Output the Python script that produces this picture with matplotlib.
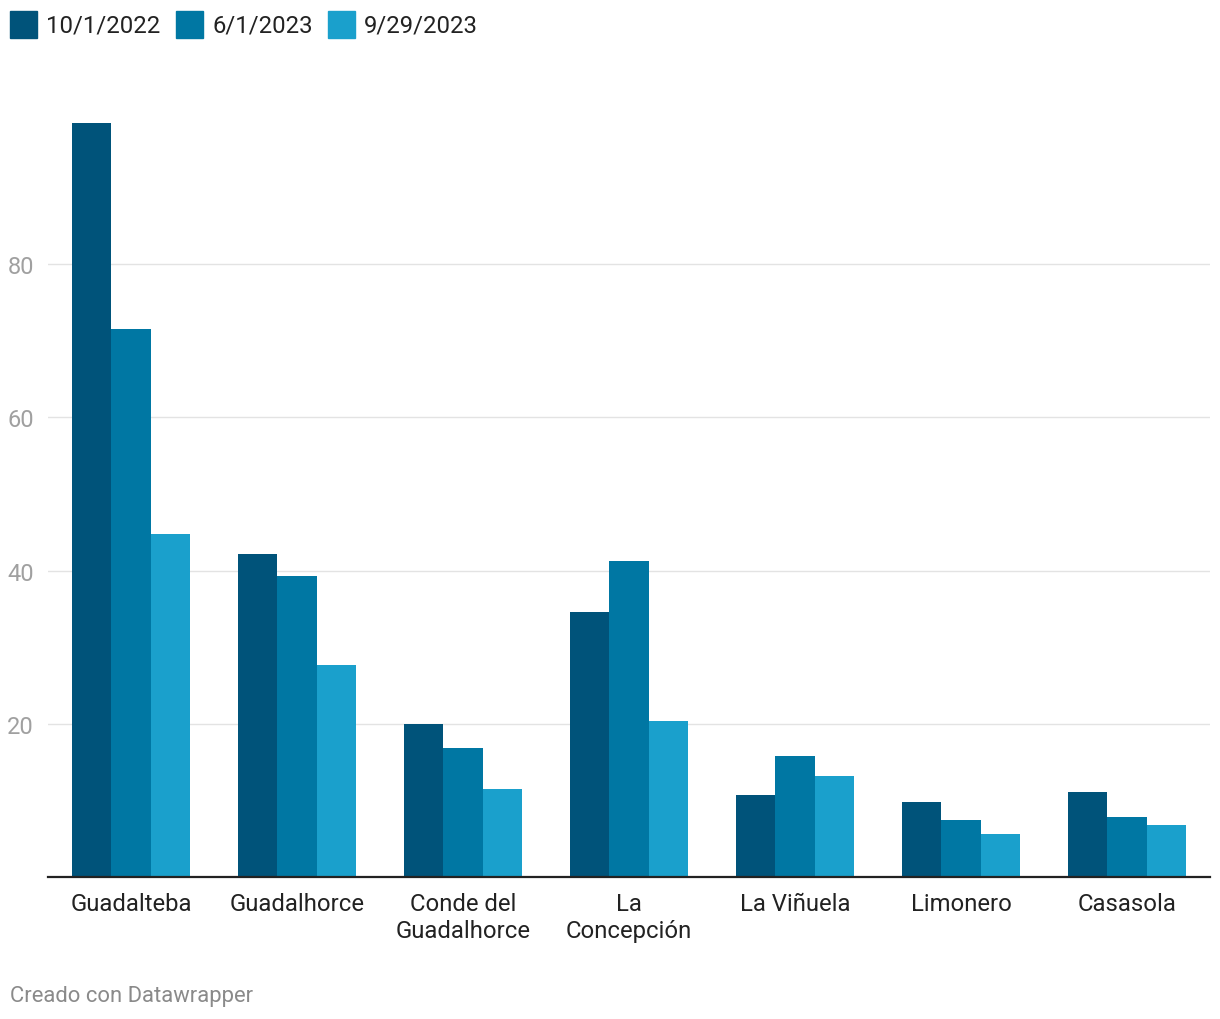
import matplotlib.pyplot as plt
from matplotlib.patches import Rectangle
import numpy as np

plt.rcParams['font.family'] = ['Roboto', 'DejaVu Sans']

# ---- Data ----------------------------------------------------------------
reservoirs = ["Guadalteba", "Guadalhorce", "Conde del\nGuadalhorce", "La\nConcepción",
              "La Viñuela", "Limonero", "Casasola"]
dates = ["10/1/2022", "6/1/2023", "9/29/2023"]
oct_2022 = [98.4, 42.2, 20.0, 34.6, 10.7, 9.8, 11.1]
jun_2023 = [71.5, 39.3, 16.8, 41.3, 15.8, 7.4, 7.8]
sep_2023 = [44.8, 27.7, 11.5, 20.4, 13.2, 5.6, 6.8]
series = [oct_2022, jun_2023, sep_2023]
colors = ["#00537a", "#0077a3", "#1aa0cc"]
yticks = [20, 40, 60, 80]

# ---- Figure --------------------------------------------------------------
W, H = 1220, 1020
fig = plt.figure(figsize=(W / 100, H / 100), dpi=100)
ax = fig.add_axes([48 / W, (H - 878) / H, (1210 - 48) / W, (878 - 112) / H])

x = np.arange(len(reservoirs))
bw = 0.235
for i, (vals, c) in enumerate(zip(series, colors)):
    ax.bar(x + (i - 1) * bw, vals, width=bw, color=c, zorder=2)

ax.set_xlim(-0.5, len(reservoirs) - 0.5)
ax.set_ylim(0, 100)
ax.set_yticks(yticks)
ax.set_yticklabels([str(t) for t in yticks], fontsize=17, color="#a0a0a0")
ax.tick_params(axis="y", length=0, pad=10)
ax.set_xticks(x)
ax.set_xticklabels(reservoirs, fontsize=17.2, color="#222222", linespacing=1.2)
ax.tick_params(axis="x", length=0, pad=11)
ax.grid(axis="y", color="#e3e3e3", linewidth=1, zorder=0)
for s in ("top", "right", "left"):
    ax.spines[s].set_visible(False)
ax.spines["bottom"].set_linewidth(1.6)
ax.spines["bottom"].set_color("#222222")
ax.spines["bottom"].set_zorder(3)

# ---- Legend --------------------------------------------------------------
lx = [10, 176, 328]
for px, lab, c in zip(lx, dates, colors):
    fig.patches.append(Rectangle((px / W, 1 - 39 / H), 27 / W, 27 / H,
                                 transform=fig.transFigure, color=c))
    fig.text((px + 36) / W, 1 - 26 / H, lab, fontsize=17.2, color="#222222",
             va="center", ha="left")

fig.text(10 / W, 1 - 997 / H, "Creado con Datawrapper", fontsize=15.8,
         color="#8a8a8a", va="center", ha="left")

plt.savefig("out.png", dpi=100)
